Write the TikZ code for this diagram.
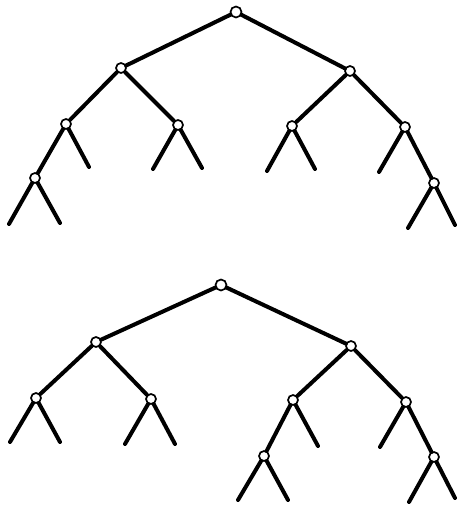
\documentclass[tikz,border=0pt]{standalone}
\begin{document}
\begin{tikzpicture}[x=1pt,y=-1pt,
  vtx/.style={circle,draw=black,fill=white,line width=1.7pt,minimum size=10pt,inner sep=0pt},
  edge/.style={line width=4pt,line cap=round}]
\useasboundingbox (0,0) rectangle (457,508);
% top tree
\node[vtx,minimum size=11pt] (a) at (236,12) {};
\node[vtx] (a1) at (121,68) {};
\node[vtx] (a2) at (350,71) {};
\node[vtx] (a11) at (66,124) {};
\node[vtx] (a12) at (178,125) {};
\node[vtx] (a21) at (292,126) {};
\node[vtx] (a22) at (405,127) {};
\node[vtx] (a111) at (35,178) {};
\node[vtx] (a222) at (434,183) {};
\coordinate (la1) at (89,167);
\coordinate (la2) at (9,224);
\coordinate (la3) at (60,223);
\coordinate (la4) at (153,169);
\coordinate (la5) at (202,168);
\coordinate (la6) at (267,171);
\coordinate (la7) at (315,169);
\coordinate (la8) at (379,172);
\coordinate (la9) at (408,228);
\coordinate (la10) at (455,225);
\draw[edge] (a) -- (a1);
\draw[edge] (a) -- (a2);
\draw[edge] (a1) -- (a11);
\draw[edge] (a1) -- (a12);
\draw[edge] (a2) -- (a21);
\draw[edge] (a2) -- (a22);
\draw[edge] (a11) -- (a111);
\draw[edge] (a11) -- (la1);
\draw[edge] (a111) -- (la2);
\draw[edge] (a111) -- (la3);
\draw[edge] (a12) -- (la4);
\draw[edge] (a12) -- (la5);
\draw[edge] (a21) -- (la6);
\draw[edge] (a21) -- (la7);
\draw[edge] (a22) -- (la8);
\draw[edge] (a22) -- (a222);
\draw[edge] (a222) -- (la9);
\draw[edge] (a222) -- (la10);
% bottom tree
\node[vtx,minimum size=11pt] (b) at (221,285) {};
\node[vtx] (b1) at (96,342) {};
\node[vtx] (b2) at (351,346) {};
\node[vtx] (b11) at (36,398) {};
\node[vtx] (b12) at (151,399) {};
\node[vtx] (b21) at (293,400) {};
\node[vtx] (b22) at (406,402) {};
\node[vtx] (b211) at (264,456) {};
\node[vtx] (b222) at (434,457) {};
\coordinate (lb1) at (10,442);
\coordinate (lb2) at (60,442);
\coordinate (lb3) at (125,444);
\coordinate (lb4) at (175,444);
\coordinate (lb5) at (318,446);
\coordinate (lb6) at (380,447);
\coordinate (lb7) at (238,500);
\coordinate (lb8) at (288,500);
\coordinate (lb9) at (409,502);
\coordinate (lb10) at (455,498);
\draw[edge] (b) -- (b1);
\draw[edge] (b) -- (b2);
\draw[edge] (b1) -- (b11);
\draw[edge] (b1) -- (b12);
\draw[edge] (b2) -- (b21);
\draw[edge] (b2) -- (b22);
\draw[edge] (b11) -- (lb1);
\draw[edge] (b11) -- (lb2);
\draw[edge] (b12) -- (lb3);
\draw[edge] (b12) -- (lb4);
\draw[edge] (b21) -- (b211);
\draw[edge] (b21) -- (lb5);
\draw[edge] (b211) -- (lb7);
\draw[edge] (b211) -- (lb8);
\draw[edge] (b22) -- (lb6);
\draw[edge] (b22) -- (b222);
\draw[edge] (b222) -- (lb9);
\draw[edge] (b222) -- (lb10);
\end{tikzpicture}
\end{document}
